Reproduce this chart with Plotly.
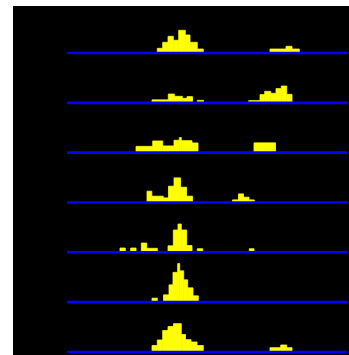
import plotly.graph_objects as go

# Seven rows of histograms (top to bottom). For each row: bin edges and heights.
row1_edges = [90.3, 95.7, 101, 106.3, 111.7, 118.3, 123, 130.3, 136.3]
row1_vals = [4.7, 10.7, 16.7, 12.7, 22.7, 18, 10.7, 4]
row1b_edges = [203, 219, 225, 232.3]
row1b_vals = [4, 6.7, 4]

row2_edges = [85, 101.3, 107.3, 115.3, 120, 125.5]
row2_vals = [3, 8.8, 6.5, 4.5, 6.2]
row2b_edges = [130.3, 136.5]
row2b_vals = [2.5]
row2c_edges = [181.7, 193, 197.7, 203.7, 209, 214.3, 219.7, 225]
row2c_vals = [2.2, 8.2, 11.5, 9.5, 14.2, 16.8, 8.5]

row3_edges = [69, 85.7, 95.7, 107, 112.3, 114.3, 125, 131]
row3_vals = [6.3, 11.7, 6.7, 12.4, 15.1, 12, 9.7]
row3b_edges = [187, 208.5]
row3b_vals = [9.8]

row4_edges = [80, 84.8, 96.2, 101.5, 107, 113.5, 119.5, 125.5]
row4_vals = [11.3, 6.3, 4.6, 16.3, 24.6, 15.3, 6.3]
row4b_edges = [165.5, 171.5, 176.5, 182, 187.2]
row4b_vals = [2.6, 8.6, 5.3, 2.6]

row5a_edges = [53, 58.3]
row5a_vals = [4.3]
row5b_edges = [63.7, 69]
row5b_vals = [4.3]
row5c_edges = [74.3, 79.7, 90.3]
row5c_vals = [9.3, 4]
row5d_edges = [101, 106.3, 111, 114.3, 119.7, 125]
row5d_vals = [6.5, 22.3, 28.3, 22.3, 6.8]
row5e_edges = [130.3, 135.7]
row5e_vals = [3.6]
row5f_edges = [182.3, 187]
row5f_vals = [3.6]

row6a_edges = [85, 90.3]
row6a_vals = [4]
row6b_edges = [96.5, 102, 106, 110.7, 112.7, 116.7, 120.7, 126, 131.3]
row6b_vals = [7.3, 17.3, 29.8, 38.6, 31.3, 22.3, 14.3, 6.3]

row7_edges = [85, 90.3, 95.7, 101, 106.5, 114.3, 118.5, 124, 130, 136.3]
row7_vals = [6.5, 12, 21.5, 25.5, 28.3, 17.5, 12.3, 10, 6.5]
row7b_edges = [203, 213.7, 219.7, 225]
row7b_vals = [4.3, 7, 4.3]

rows = [
    [(row1_edges, row1_vals), (row1b_edges, row1b_vals)],
    [(row2_edges, row2_vals), (row2b_edges, row2b_vals), (row2c_edges, row2c_vals)],
    [(row3_edges, row3_vals), (row3b_edges, row3b_vals)],
    [(row4_edges, row4_vals), (row4b_edges, row4b_vals)],
    [(row5a_edges, row5a_vals), (row5b_edges, row5b_vals), (row5c_edges, row5c_vals),
     (row5d_edges, row5d_vals), (row5e_edges, row5e_vals), (row5f_edges, row5f_vals)],
    [(row6a_edges, row6a_vals), (row6b_edges, row6b_vals)],
    [(row7_edges, row7_vals), (row7b_edges, row7b_vals)],
]

AXIS_END = 280
ROW_STEP = 49.83
TOP_BASE = 302

xs, ys, ws, bases = [], [], [], []
for k, groups in enumerate(rows):
    base = TOP_BASE - ROW_STEP * k
    for edges, vals in groups:
        for i, v in enumerate(vals):
            xs.append((edges[i] + edges[i + 1]) / 2)
            ws.append(edges[i + 1] - edges[i])
            ys.append(v)
            bases.append(base)

fig = go.Figure()
fig.add_trace(go.Bar(x=xs, y=ys, width=ws, base=bases,
                     marker=dict(color="#ffff00", line=dict(width=0.8, color="#ffff00")),
                     hoverinfo="skip", showlegend=False))

for k in range(len(rows)):
    base = TOP_BASE - ROW_STEP * k
    fig.add_trace(go.Scatter(x=[0, AXIS_END], y=[base, base], mode="lines",
                             line=dict(color="#0000ff", width=2.6),
                             hoverinfo="skip", showlegend=False))

fig.update_layout(
    width=351, height=357, autosize=False,
    margin=dict(l=13, r=0, t=6, b=0, pad=0),
    paper_bgcolor="white", plot_bgcolor="black",
    barmode="overlay",
    xaxis=dict(range=[-54, 284], visible=False, fixedrange=True),
    yaxis=dict(range=[-2, 349], visible=False, fixedrange=True),
)

fig.write_html("out.html", config={"displayModeBar": False},
               post_script="document.body.style.margin='0';document.body.style.overflow='hidden';")
